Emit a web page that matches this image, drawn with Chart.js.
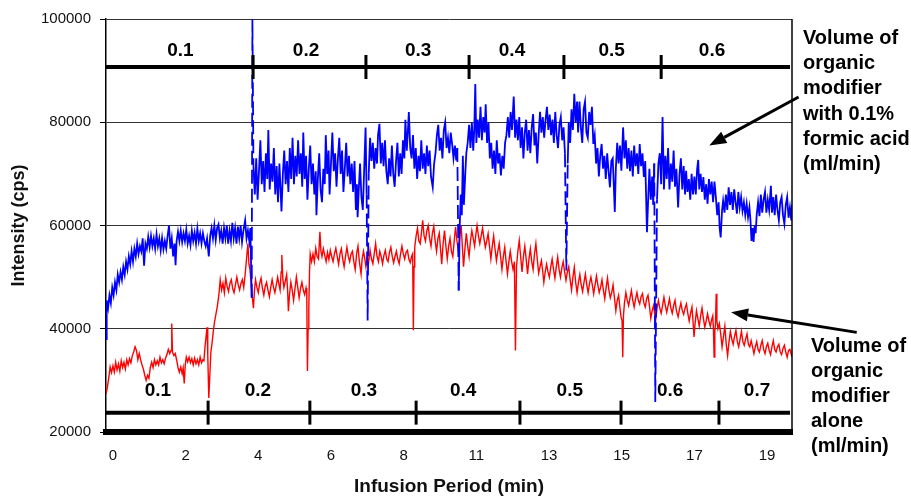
<!DOCTYPE html>
<html>
<head>
<meta charset="utf-8">
<script src="https://cdn.jsdelivr.net/npm/chart.js@4/dist/chart.umd.min.js"></script>
<style>
  html, body { margin: 0; padding: 0; background: #fff; }
  #wrap { width: 911px; height: 496px; }
</style>
</head>
<body>
<div id="wrap"><canvas id="c" width="911" height="496"></canvas></div>
<script>
// ---- data (time in min, intensity in thousands of cps) ----
const xTickMin = [0, 2.1, 4.2, 6.3, 8.4, 10.5, 12.6, 14.7, 16.8, 18.9];
const xTickLabels = ["0", "2", "4", "6", "8", "11", "13", "15", "17", "19"];
const yTickCps = [20000, 40000, 60000, 80000, 100000];

// organic modifier with 0.1% formic acid (blue)
const blueSeries = [
[-0.20,38.0],[-0.18,45.5],[-0.14,44.0],[-0.10,46.5],[-0.06,45.0],[-0.02,48.0],[0.02,46.5],[0.06,49.0],[0.10,47.5],[0.14,50.5],
[0.18,49.0],[0.22,51.0],[0.26,49.5],[0.30,52.0],[0.34,50.5],[0.38,53.0],[0.42,51.5],[0.46,54.0],[0.50,52.5],[0.54,55.0],
[0.58,53.0],[0.62,55.5],[0.66,54.0],[0.70,56.5],[0.74,54.5],[0.78,56.0],[0.82,55.0],[0.86,57.5],[0.90,52.2],[0.94,56.5],
[0.98,55.5],[1.02,57.8],[1.06,55.8],[1.10,58.0],[1.14,56.0],[1.18,57.5],[1.22,55.5],[1.26,58.3],[1.30,56.0],[1.34,57.5],
[1.38,55.2],[1.42,57.6],[1.46,55.4],[1.50,57.0],[1.54,55.5],[1.58,58.0],[1.62,60.0],[1.66,55.5],[1.70,57.5],[1.74,54.0],
[1.78,56.5],[1.81,52.3],[1.84,57.0],[1.88,58.8],[1.92,57.0],[1.96,59.0],[2.00,56.8],[2.04,58.5],[2.08,57.0],[2.12,59.2],
[2.16,56.5],[2.20,58.0],[2.24,56.2],[2.28,59.0],[2.32,57.0],[2.36,58.6],[2.40,56.5],[2.44,59.4],[2.48,57.0],[2.52,58.5],
[2.56,56.5],[2.60,58.5],[2.64,57.0],[2.68,56.0],[2.72,57.5],[2.77,54.0],[2.81,58.0],[2.85,59.5],[2.89,57.5],[2.93,60.0],
[2.97,57.2],[3.01,59.5],[3.05,60.2],[3.09,57.5],[3.13,59.0],[3.17,56.5],[3.21,59.5],[3.25,57.5],[3.29,60.0],[3.33,56.5],
[3.37,59.0],[3.41,57.0],[3.45,60.5],[3.49,57.5],[3.53,59.5],[3.57,56.5],[3.61,59.8],[3.65,57.5],[3.69,60.0],[3.73,56.8],
[3.77,59.0],[3.82,61.0],[3.86,57.5],[3.90,59.0],[3.94,57.0],[3.97,59.5],[4.01,46.0],[4.03,100.0],
[4.06,71.5],[4.10,66.0],[4.14,73.0],[4.18,65.0],[4.22,70.5],[4.26,76.5],[4.30,68.0],[4.34,72.5],[4.38,66.5],[4.42,74.0],
[4.46,69.0],[4.49,78.5],[4.53,67.0],[4.57,72.0],[4.61,68.5],[4.65,75.0],[4.69,66.0],[4.73,71.5],[4.77,64.5],[4.81,72.0],
[4.84,67.5],[4.87,62.7],[4.91,70.0],[4.95,74.5],[4.99,68.0],[5.03,72.5],[5.07,66.5],[5.11,75.0],[5.15,69.0],[5.19,77.0],
[5.23,68.0],[5.27,73.5],[5.31,69.5],[5.35,76.5],[5.39,70.0],[5.43,74.0],[5.47,67.5],[5.50,78.0],[5.54,69.0],[5.58,73.5],
[5.62,65.0],[5.66,71.0],[5.70,75.5],[5.74,68.0],[5.78,72.0],[5.82,66.0],[5.86,70.5],[5.88,62.0],[5.92,69.0],[5.96,74.0],
[6.00,67.0],[6.04,64.5],[6.08,71.0],[6.12,68.0],[6.15,77.5],[6.19,70.0],[6.23,74.5],[6.26,66.0],[6.30,72.0],[6.34,78.0],
[6.38,70.5],[6.42,74.0],[6.46,67.5],[6.50,73.0],[6.54,77.0],[6.58,70.0],[6.62,74.5],[6.66,66.5],[6.70,71.0],[6.74,76.0],
[6.78,69.5],[6.82,73.5],[6.86,68.0],[6.90,72.0],[6.94,66.5],[6.98,72.5],[7.02,63.0],[7.05,68.0],[7.07,61.6],[7.10,66.5],
[7.14,72.0],[7.18,65.5],[7.22,63.0],[7.26,71.0],[7.30,79.0],[7.33,66.0],[7.36,41.6],[7.39,70.0],[7.43,77.0],[7.47,72.5],
[7.51,76.0],[7.55,71.0],[7.59,75.0],[7.63,72.0],[7.66,77.5],[7.70,79.7],[7.74,72.0],[7.78,76.0],[7.82,71.5],[7.86,76.5],
[7.90,70.5],[7.94,68.0],[7.98,73.0],[8.02,69.5],[8.06,75.5],[8.10,70.0],[8.14,67.5],[8.18,72.5],[8.22,76.0],[8.26,69.5],
[8.30,74.0],[8.34,70.0],[8.38,76.5],[8.42,73.0],[8.45,80.5],[8.49,74.5],[8.52,78.0],[8.55,82.0],[8.59,75.0],[8.63,73.0],
[8.67,77.5],[8.71,71.0],[8.75,75.0],[8.79,69.0],[8.83,73.5],[8.87,70.5],[8.91,76.5],[8.95,71.0],[8.99,74.0],[9.03,70.0],
[9.07,75.5],[9.11,71.5],[9.15,74.5],[9.19,69.5],[9.24,67.4],[9.28,72.0],[9.32,74.0],[9.36,77.5],[9.40,79.5],[9.44,74.5],
[9.48,77.0],[9.52,73.0],[9.56,78.5],[9.60,80.0],[9.64,75.0],[9.68,77.0],[9.72,74.0],[9.76,78.0],[9.80,75.8],[9.84,73.0],
[9.88,75.5],[9.92,72.6],[9.95,75.0],[9.99,47.4],[10.02,60.0],[10.05,66.0],[10.08,62.0],[10.11,73.5],[10.14,64.0],[10.18,70.0],
[10.21,74.0],[10.25,76.0],[10.29,79.5],[10.33,75.0],[10.37,80.0],[10.41,74.5],[10.44,78.5],[10.47,87.4],[10.50,76.0],[10.54,80.5],
[10.58,77.0],[10.62,83.0],[10.66,76.5],[10.70,81.0],[10.74,78.0],[10.77,83.5],[10.81,76.0],[10.85,80.0],[10.89,73.0],[10.93,76.0],
[10.97,71.0],[11.01,74.5],[11.05,70.0],[11.09,76.5],[11.13,72.0],[11.17,74.0],[11.21,69.7],[11.25,73.5],[11.29,71.0],[11.33,76.0],
[11.37,77.5],[11.41,81.0],[11.45,77.0],[11.49,82.0],[11.53,78.5],[11.58,85.0],[11.62,77.0],[11.66,80.5],[11.70,76.5],[11.74,81.0],
[11.78,75.0],[11.82,79.0],[11.86,73.0],[11.90,78.0],[11.94,80.5],[11.98,74.5],[12.02,78.5],[12.06,74.0],[12.10,79.0],[12.14,81.6],
[12.18,75.5],[12.22,78.0],[12.26,72.0],[12.30,77.5],[12.34,82.0],[12.38,78.0],[12.42,81.0],[12.46,77.0],[12.50,80.5],[12.54,83.0],
[12.58,78.5],[12.62,81.5],[12.66,77.5],[12.70,80.5],[12.74,76.0],[12.78,82.0],[12.82,77.5],[12.86,75.0],[12.90,79.5],[12.94,81.0],
[12.98,76.5],[13.02,79.0],[13.06,74.0],[13.10,51.3],[13.14,72.0],[13.17,80.0],[13.21,76.0],[13.25,82.5],[13.29,78.5],[13.33,85.5],
[13.37,80.0],[13.41,84.0],[13.44,78.0],[13.48,84.0],[13.52,79.0],[13.56,76.0],[13.60,82.5],[13.64,84.0],[13.68,78.0],[13.72,77.0],
[13.76,82.0],[13.80,79.5],[13.84,83.0],[13.88,75.8],[13.92,77.5],[13.96,72.0],[14.00,75.0],[14.04,69.5],[14.08,73.5],[14.12,75.8],
[14.16,71.0],[14.20,73.5],[14.24,69.0],[14.28,74.0],[14.32,70.5],[14.36,67.4],[14.40,72.5],[14.44,73.0],[14.47,68.0],[14.50,62.6],
[14.53,71.0],[14.57,76.0],[14.61,72.0],[14.65,75.5],[14.69,70.6],[14.74,79.0],[14.78,73.0],[14.82,76.5],[14.86,71.0],[14.90,75.0],
[14.94,70.5],[14.98,74.5],[15.02,69.5],[15.06,75.5],[15.10,71.5],[15.14,74.0],[15.18,70.0],[15.22,75.8],[15.26,71.5],[15.30,74.0],
[15.34,69.4],[15.38,72.5],[15.43,58.7],[15.47,66.0],[15.50,71.0],[15.54,65.0],[15.58,69.5],[15.61,64.0],[15.64,72.0],[15.67,25.8],
[15.72,65.0],[15.76,72.0],[15.80,74.0],[15.84,68.0],[15.88,81.0],[15.92,67.0],[15.96,73.5],[16.00,69.0],[16.04,75.0],[16.08,67.0],
[16.12,72.0],[16.16,68.5],[16.20,74.5],[16.24,67.5],[16.28,71.0],[16.33,63.5],[16.37,70.0],[16.41,73.0],[16.45,67.0],[16.49,71.5],
[16.53,66.0],[16.56,70.6],[16.60,66.5],[16.64,69.0],[16.68,65.0],[16.72,70.0],[16.76,66.0],[16.80,69.5],[16.84,66.0],[16.88,71.0],
[16.91,72.7],[16.94,67.0],[16.98,70.0],[17.02,66.5],[17.06,69.4],[17.10,65.0],[17.14,68.0],[17.18,64.2],[17.22,69.0],[17.26,66.0],
[17.30,68.5],[17.34,64.5],[17.38,68.5],[17.42,65.5],[17.46,62.0],[17.50,64.5],[17.53,59.5],[17.56,57.7],[17.60,63.0],[17.63,64.8],
[17.67,62.5],[17.71,66.0],[17.75,63.0],[17.79,67.4],[17.83,64.0],[17.87,66.5],[17.91,63.0],[17.95,67.0],[17.99,64.5],[18.03,62.3],
[18.07,66.5],[18.11,63.5],[18.15,65.5],[18.19,62.8],[18.23,64.5],[18.27,62.0],[18.31,64.2],[18.35,61.6],[18.39,63.5],[18.42,61.0],
[18.45,57.0],[18.48,59.5],[18.51,56.8],[18.54,60.0],[18.57,58.5],[18.60,62.0],[18.64,64.5],[18.68,61.8],[18.72,66.0],[18.76,62.5],
[18.80,65.0],[18.84,66.5],[18.88,62.5],[18.92,65.0],[18.96,63.0],[19.01,67.7],[19.04,62.5],[19.08,65.5],[19.12,62.0],[19.16,66.0],
[19.20,63.0],[19.24,61.0],[19.28,64.5],[19.32,65.5],[19.36,62.0],[19.40,60.3],[19.44,64.0],[19.48,65.5],[19.52,61.5],[19.56,63.5],
[19.60,61.0],[19.62,64.0]
];

// organic modifier alone (red)
const redSeries = [
[-0.20,27.4],[-0.16,28.7],[-0.12,30.5],[-0.08,32.6],[-0.04,31.5],[0.00,32.8],[0.04,31.6],[0.08,33.5],[0.12,32.0],[0.16,33.2],
[0.20,31.8],[0.24,33.8],[0.28,32.5],[0.32,33.5],[0.36,32.2],[0.40,34.0],[0.44,33.0],[0.48,34.2],[0.52,33.4],[0.56,34.8],
[0.60,35.5],[0.64,36.5],[0.68,35.8],[0.72,34.0],[0.76,35.2],[0.80,34.0],[0.84,33.0],[0.88,32.2],[0.92,31.0],[0.96,30.0],
[1.00,31.0],[1.04,30.4],[1.08,32.5],[1.12,33.5],[1.16,32.5],[1.20,34.0],[1.24,33.0],[1.28,33.8],[1.32,33.0],[1.36,34.5],
[1.40,33.4],[1.44,34.0],[1.48,33.2],[1.52,34.3],[1.56,35.0],[1.60,36.0],[1.64,35.2],[1.68,35.8],[1.70,41.0],[1.72,35.5],
[1.76,34.8],[1.80,35.2],[1.84,34.0],[1.88,32.5],[1.92,31.6],[1.96,32.6],[2.00,31.3],[2.03,32.4],[2.06,29.4],[2.09,33.0],
[2.12,34.5],[2.16,33.6],[2.20,34.5],[2.24,33.4],[2.28,34.2],[2.32,33.0],[2.36,34.3],[2.40,33.2],[2.44,34.0],[2.48,33.0],
[2.52,34.5],[2.56,33.4],[2.60,34.0],[2.63,33.8],[2.66,36.5],[2.69,38.4],[2.72,40.3],[2.74,35.0],[2.77,26.6],[2.80,31.0],
[2.83,35.5],[2.86,37.0],[2.90,39.5],[2.94,41.5],[2.98,43.0],[3.02,44.5],[3.06,46.5],[3.10,49.5],[3.14,47.5],[3.18,48.8],
[3.22,47.0],[3.26,49.8],[3.30,48.2],[3.34,47.2],[3.38,48.8],[3.42,49.5],[3.46,47.8],[3.50,47.0],[3.54,48.5],[3.58,50.0],
[3.62,48.5],[3.66,47.5],[3.70,48.8],[3.74,49.5],[3.78,48.0],[3.82,50.5],[3.86,53.5],[3.90,56.5],[3.93,52.5],[3.96,51.5],
[4.00,48.0],[4.03,46.0],[4.06,44.0],[4.09,47.5],[4.12,49.5],[4.16,48.0],[4.20,47.0],[4.24,48.8],[4.28,49.8],[4.32,47.8],
[4.36,46.5],[4.40,48.2],[4.44,49.0],[4.48,47.5],[4.52,46.2],[4.56,48.0],[4.60,49.5],[4.64,48.0],[4.68,47.0],[4.72,48.5],
[4.76,50.0],[4.80,48.5],[4.83,47.5],[4.86,51.0],[4.88,54.3],[4.91,49.5],[4.94,48.0],[4.98,49.2],[5.02,50.5],[5.05,47.0],
[5.07,43.4],[5.10,46.5],[5.14,49.0],[5.18,47.5],[5.22,45.5],[5.26,47.8],[5.30,50.0],[5.34,48.0],[5.38,46.0],[5.42,47.8],
[5.46,49.0],[5.50,47.5],[5.54,46.6],[5.58,47.9],[5.60,47.0],[5.62,31.8],[5.64,40.0],[5.66,44.0],[5.68,51.0],[5.70,54.5],
[5.74,53.0],[5.78,54.5],[5.82,53.0],[5.86,55.6],[5.90,54.0],[5.94,53.5],[5.98,58.8],[6.01,55.0],[6.04,54.0],[6.08,55.5],
[6.12,54.2],[6.16,53.0],[6.20,54.8],[6.24,53.4],[6.28,55.2],[6.32,54.0],[6.36,53.0],[6.40,54.5],[6.44,55.6],[6.48,54.0],
[6.52,52.5],[6.56,54.5],[6.60,55.5],[6.64,53.5],[6.68,52.0],[6.72,54.0],[6.76,55.8],[6.80,54.0],[6.84,53.0],[6.88,54.5],
[6.92,55.0],[6.96,53.0],[7.00,51.5],[7.04,54.5],[7.08,56.0],[7.12,53.0],[7.17,50.6],[7.20,53.5],[7.24,55.0],[7.28,53.5],
[7.31,52.0],[7.35,54.0],[7.39,53.0],[7.43,55.2],[7.47,53.5],[7.51,52.6],[7.55,54.5],[7.59,56.5],[7.63,54.0],[7.67,53.0],
[7.71,55.0],[7.75,54.0],[7.79,52.6],[7.83,54.2],[7.87,55.2],[7.91,53.5],[7.95,53.0],[7.99,54.8],[8.03,55.8],[8.07,54.0],
[8.11,52.8],[8.15,54.0],[8.19,55.0],[8.23,53.5],[8.27,52.6],[8.31,54.5],[8.35,56.0],[8.39,54.5],[8.43,53.5],[8.47,54.8],
[8.51,55.2],[8.55,53.5],[8.59,52.8],[8.63,54.0],[8.66,54.5],[8.68,39.7],[8.70,52.0],[8.72,55.8],[8.76,58.0],[8.80,59.5],
[8.84,57.0],[8.88,56.5],[8.92,59.0],[8.95,61.0],[8.99,58.0],[9.03,57.0],[9.07,59.0],[9.11,60.0],[9.15,57.5],[9.19,56.0],
[9.23,58.5],[9.27,59.8],[9.31,57.0],[9.35,55.0],[9.39,57.5],[9.43,58.5],[9.47,55.0],[9.50,52.5],[9.54,56.5],[9.58,59.0],
[9.62,56.0],[9.66,53.5],[9.70,56.0],[9.74,57.5],[9.78,55.0],[9.82,54.0],[9.86,57.0],[9.90,59.7],[9.94,57.0],[9.98,55.0],
[10.02,58.0],[10.06,60.0],[10.10,55.5],[10.13,52.0],[10.17,55.5],[10.21,58.5],[10.25,56.0],[10.29,54.0],[10.33,57.0],[10.37,59.0],
[10.41,57.5],[10.45,56.0],[10.49,58.5],[10.52,60.0],[10.56,58.0],[10.60,56.5],[10.64,58.0],[10.68,59.5],[10.72,57.5],[10.76,55.8],
[10.80,57.0],[10.84,58.4],[10.88,56.0],[10.92,53.5],[10.96,56.0],[11.00,58.0],[11.04,55.5],[11.08,53.2],[11.12,55.0],[11.16,56.5],
[11.20,54.0],[11.24,51.5],[11.28,54.0],[11.32,55.8],[11.36,53.0],[11.40,50.6],[11.44,53.0],[11.48,55.0],[11.52,53.0],[11.56,51.5],
[11.60,53.0],[11.63,35.8],[11.66,52.0],[11.70,55.0],[11.74,57.1],[11.78,54.0],[11.82,51.0],[11.86,54.0],[11.90,56.0],[11.94,53.5],
[11.98,50.6],[12.02,53.5],[12.06,55.5],[12.10,53.0],[12.14,51.5],[12.18,54.5],[12.22,56.5],[12.26,53.5],[12.30,50.8],[12.34,52.0],
[12.38,53.2],[12.42,51.0],[12.45,49.0],[12.49,51.0],[12.53,52.5],[12.57,51.0],[12.61,50.0],[12.65,52.0],[12.69,53.5],[12.73,51.5],
[12.77,49.8],[12.81,52.0],[12.85,53.9],[12.89,51.5],[12.93,50.0],[12.97,51.8],[13.01,53.0],[13.05,51.0],[13.09,49.4],[13.13,51.0],
[13.17,52.0],[13.21,49.5],[13.25,47.5],[13.29,50.0],[13.33,51.9],[13.37,49.0],[13.41,47.0],[13.45,49.0],[13.49,50.5],[13.53,48.5],
[13.57,47.2],[13.61,49.0],[13.65,50.6],[13.69,48.5],[13.73,47.0],[13.77,48.8],[13.81,50.0],[13.85,48.5],[13.89,46.8],[13.93,48.5],
[13.97,50.2],[14.01,48.5],[14.05,47.0],[14.09,48.0],[14.13,49.5],[14.17,47.5],[14.21,45.8],[14.25,48.0],[14.29,49.8],[14.33,47.5],
[14.37,46.0],[14.41,47.0],[14.45,48.5],[14.49,46.0],[14.53,43.5],[14.57,45.5],[14.61,46.5],[14.65,44.0],[14.68,42.3],[14.71,41.6],
[14.73,34.5],[14.75,42.5],[14.78,45.0],[14.82,47.0],[14.86,45.5],[14.90,44.5],[14.94,46.0],[14.98,47.4],[15.02,45.5],[15.06,44.2],
[15.10,45.8],[15.14,47.0],[15.18,45.5],[15.22,44.8],[15.26,46.2],[15.30,46.8],[15.34,45.0],[15.38,44.2],[15.42,45.8],[15.46,46.5],
[15.50,44.5],[15.54,42.0],[15.58,43.5],[15.62,44.5],[15.66,42.5],[15.68,41.6],[15.72,44.0],[15.76,45.5],[15.80,44.0],[15.84,43.0],
[15.88,44.5],[15.92,46.1],[15.96,44.5],[16.00,43.2],[16.04,44.5],[16.08,45.8],[16.12,44.0],[16.16,43.0],[16.20,44.5],[16.24,45.5],
[16.28,43.5],[16.33,42.3],[16.37,43.8],[16.41,45.0],[16.45,43.5],[16.49,42.8],[16.53,44.0],[16.57,44.8],[16.61,43.0],[16.65,41.5],
[16.69,43.0],[16.73,44.2],[16.76,41.5],[16.79,38.4],[16.82,41.0],[16.86,43.5],[16.90,42.0],[16.94,40.5],[16.98,42.5],[17.02,44.0],
[17.06,42.0],[17.10,40.3],[17.14,41.5],[17.18,42.9],[17.22,41.5],[17.26,40.5],[17.30,41.8],[17.33,42.5],[17.35,40.0],[17.37,34.5],
[17.39,39.5],[17.41,41.0],[17.43,46.8],[17.45,41.5],[17.48,40.0],[17.52,41.0],[17.56,39.0],[17.60,36.5],[17.64,38.5],[17.68,40.5],
[17.72,37.0],[17.76,34.8],[17.80,37.5],[17.84,39.5],[17.88,38.0],[17.92,37.0],[17.96,38.5],[18.00,39.7],[18.04,37.5],[18.08,36.5],
[18.12,38.0],[18.16,39.5],[18.20,37.5],[18.24,36.8],[18.28,38.0],[18.32,39.0],[18.36,37.0],[18.40,36.5],[18.44,37.7],[18.48,36.5],
[18.52,35.2],[18.56,36.5],[18.60,37.5],[18.64,36.0],[18.68,35.5],[18.72,36.8],[18.76,37.7],[18.80,36.0],[18.84,35.2],[18.88,36.5],
[18.92,37.2],[18.96,35.8],[19.00,35.0],[19.04,36.5],[19.08,37.7],[19.12,36.0],[19.16,35.5],[19.20,36.5],[19.24,37.0],[19.28,35.5],
[19.32,35.0],[19.36,36.2],[19.40,36.8],[19.44,35.5],[19.48,34.5],[19.52,35.8],[19.56,36.0],[19.60,35.0],[19.62,34.5]
];

// flow-rate annotation bars (ml/min)
const topRates = ["0.1", "0.2", "0.3", "0.4", "0.5", "0.6"];
const topRateMin = [1.95, 5.58, 8.82, 11.53, 14.41, 17.31];
const topSwitchMin = [4.05, 7.31, 10.29, 13.03, 15.84];
const topBarCps = 90700, topLabelCps = 93900;

const bottomRates = ["0.1", "0.2", "0.3", "0.4", "0.5", "0.6", "0.7"];
const bottomRateMin = [1.30, 4.19, 7.25, 10.12, 13.2, 16.1, 18.61];
const bottomSwitchMin = [2.75, 5.69, 8.76, 11.76, 14.68, 17.51];
const bottomBarCps = 23750, bottomLabelCps = 27950;

const noteAcid = ["Volume of", "organic", "modifier", "with 0.1%", "formic acid", "(ml/min)"];
const noteAlone = ["Volume of", "organic", "modifier", "alone", "(ml/min)"];
// arrows: [tailMin, tailCps, tipMin, tipCps]
const arrowAcid = [19.81, 84900, 17.23, 75500];
const arrowAlone = [21.49, 39300, 17.86, 43200];

// ---- chart ----
const FAM = '"Liberation Sans", Arial, Helvetica, sans-serif';
const toPts = s => s.map(p => ({ x: p[0], y: p[1] * 1000 }));

const overlay = {
  id: 'overlay',
  afterDatasetsDraw(chart) {
    const { ctx, chartArea: a, scales: { x, y } } = chart;
    ctx.save();
    ctx.strokeStyle = '#000';
    ctx.fillStyle = '#000';
    ctx.lineCap = 'butt';
    ctx.lineWidth = 1.5;
    ctx.beginPath(); ctx.moveTo(a.right, a.top); ctx.lineTo(a.right, a.bottom); ctx.stroke();

    const bar = (level, switches, labels, mids, labelLevel) => {
      const py = y.getPixelForValue(level);
      ctx.lineWidth = 4;
      ctx.beginPath(); ctx.moveTo(a.left, py); ctx.lineTo(a.right - 2, py); ctx.stroke();
      ctx.lineWidth = 3;
      switches.forEach(t => {
        const px = x.getPixelForValue(t);
        ctx.beginPath(); ctx.moveTo(px, py - 12); ctx.lineTo(px, py + 12); ctx.stroke();
      });
      ctx.font = 'bold 19px ' + FAM;
      ctx.textAlign = 'center';
      ctx.textBaseline = 'middle';
      const ly = y.getPixelForValue(labelLevel);
      labels.forEach((s, i) => ctx.fillText(s, x.getPixelForValue(mids[i]), ly));
    };
    bar(topBarCps, topSwitchMin, topRates, topRateMin, topLabelCps);
    bar(bottomBarCps, bottomSwitchMin, bottomRates, bottomRateMin, bottomLabelCps);

    const arrow = (arr) => {
      const x0 = x.getPixelForValue(arr[0]), y0 = y.getPixelForValue(arr[1]);
      const x1 = x.getPixelForValue(arr[2]), y1 = y.getPixelForValue(arr[3]);
      const ang = Math.atan2(y1 - y0, x1 - x0);
      const L = 17, W = 6.5;
      const bx = x1 - L * Math.cos(ang), by = y1 - L * Math.sin(ang);
      ctx.lineWidth = 3;
      ctx.beginPath(); ctx.moveTo(x0, y0); ctx.lineTo(bx, by); ctx.stroke();
      ctx.beginPath();
      ctx.moveTo(x1, y1);
      ctx.lineTo(bx + W * Math.sin(ang), by - W * Math.cos(ang));
      ctx.lineTo(bx - W * Math.sin(ang), by + W * Math.cos(ang));
      ctx.closePath(); ctx.fill();
    };
    arrow(arrowAcid);
    arrow(arrowAlone);

    ctx.font = 'bold 20px ' + FAM;
    ctx.textAlign = 'left';
    ctx.textBaseline = 'alphabetic';
    noteAcid.forEach((s, i) => ctx.fillText(s, a.right + 11, a.top + 25 + i * 25.2));
    noteAlone.forEach((s, i) => ctx.fillText(s, a.right + 19, a.top + 333 + i * 25));
    ctx.restore();
  }
};

new Chart(document.getElementById('c'), {
  type: 'line',
  data: {
    datasets: [
      {
        label: 'Volume of organic modifier with 0.1% formic acid (ml/min)',
        data: toPts(blueSeries),
        borderColor: '#0000ff',
        borderWidth: 1.8,
        pointRadius: 0,
        tension: 0,
        segment: {
          borderDash: c => Math.abs(c.p1.parsed.y - c.p0.parsed.y) > 20000 ? [14, 5] : undefined
        }
      },
      {
        label: 'Volume of organic modifier alone (ml/min)',
        data: toPts(redSeries),
        borderColor: '#ff0000',
        borderWidth: 1.4,
        pointRadius: 0,
        tension: 0
      }
    ]
  },
  options: {
    responsive: false,
    animation: false,
    devicePixelRatio: 1,
    layout: { padding: { top: 19, right: 119, left: 0, bottom: 0 } },
    plugins: { legend: { display: false }, tooltip: { enabled: false } },
    scales: {
      x: {
        type: 'linear',
        min: -0.2,
        max: 19.62,
        afterBuildTicks: s => { s.ticks = xTickMin.map(v => ({ value: v })); },
        afterFit: s => { s.height = 64; },
        ticks: {
          callback: (v, i) => xTickLabels[i],
          autoSkip: false, maxRotation: 0, padding: 15,
          color: '#111', font: { size: 15, family: FAM }
        },
        grid: { display: false, drawTicks: false },
        border: { display: true, color: '#000', width: 6 },
        title: {
          display: true, text: 'Infusion Period (min)', color: '#111',
          font: { size: 19, weight: 'bold', family: FAM, lineHeight: 1 },
          padding: { top: 0, bottom: 0 }
        }
      },
      y: {
        min: 20000,
        max: 100000,
        afterBuildTicks: s => { s.ticks = yTickCps.map(v => ({ value: v })); },
        afterFit: s => { s.width = 106; },
        ticks: {
          callback: v => String(v), padding: 9,
          color: '#111', font: { size: 15, family: FAM }
        },
        grid: { color: '#333', lineWidth: 1, tickLength: 6, tickColor: '#000' },
        border: { color: '#000', width: 1.5 },
        title: {
          display: true, text: 'Intensity (cps)', color: '#111',
          font: { size: 18, weight: 'bold', family: FAM },
          padding: { top: 8, bottom: 0 }
        }
      }
    }
  },
  plugins: [overlay]
});
</script>
</body>
</html>
